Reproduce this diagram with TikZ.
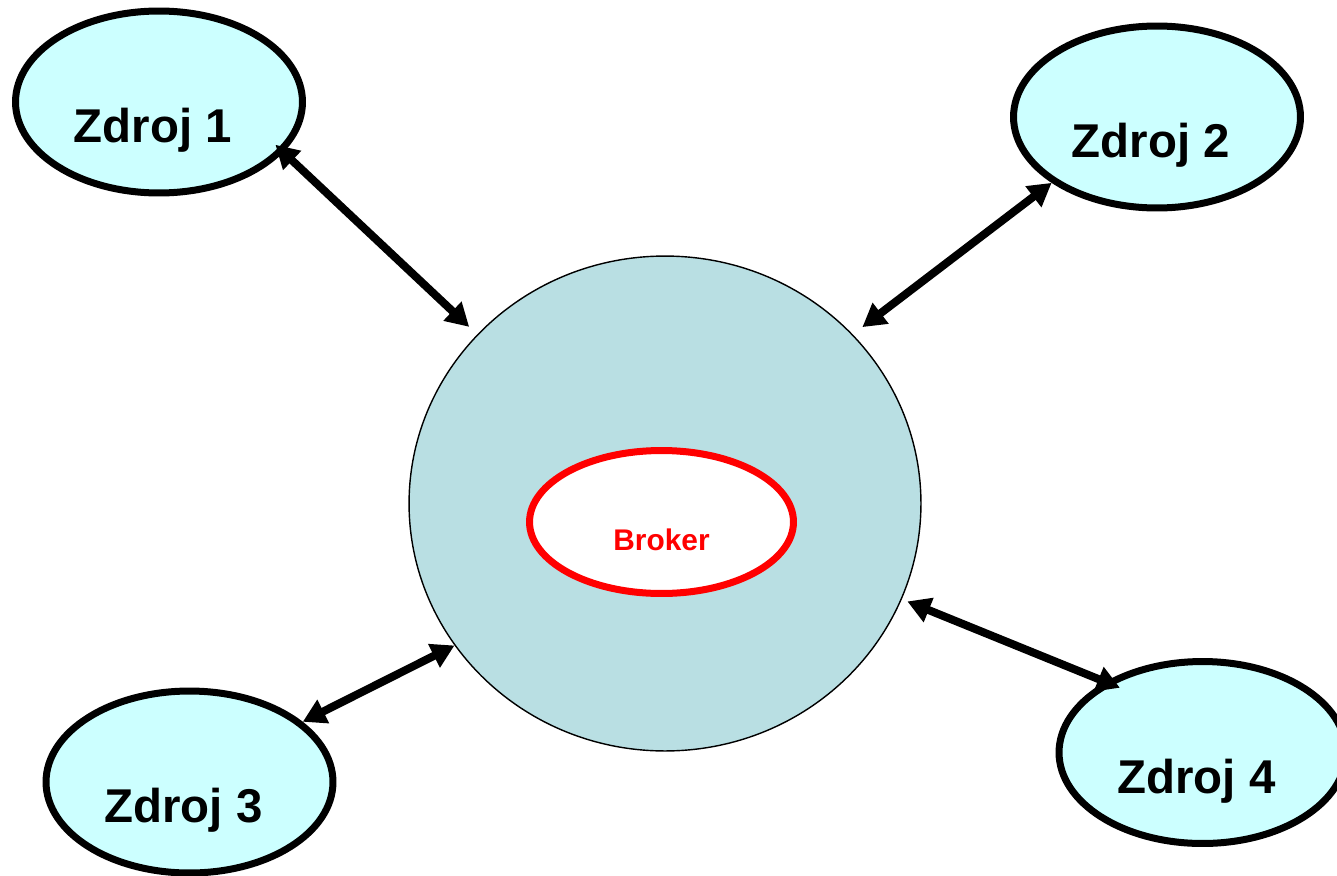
\documentclass[tikz,border=0pt]{standalone}
\usepackage{fontspec}
\setmainfont{Liberation Sans}
\usetikzlibrary{shapes.geometric,arrows.meta}

\definecolor{srcfill}{HTML}{CCFFFF}
\definecolor{hubfill}{HTML}{B9DFE3}

\begin{document}
\begin{tikzpicture}[x=0.02cm, y=-0.02cm,
    zdroj/.style={ellipse, draw, line width=0.14cm, fill=srcfill, inner sep=0pt,
        minimum width=5.74cm, minimum height=3.64cm,
        font=\fontsize{27}{32}\selectfont\bfseries, text height=1.92cm, text depth=0.3cm,
        execute at end node=\hspace*{0.24cm}},
    hub/.style={ellipse, draw, line width=0.8pt, fill=hubfill,
        minimum width=10.24cm, minimum height=9.9cm},
    broker/.style={ellipse, draw=red, line width=0.14cm, fill=white, text=red, inner sep=0pt,
        minimum width=5.28cm, minimum height=2.86cm,
        font=\fontsize{17}{20}\selectfont\bfseries, text height=1.2cm, text depth=0.08cm},
    link/.style={{Triangle[length=0.46cm,width=0.5cm]}-{Triangle[length=0.46cm,width=0.5cm]}, line width=0.16cm}]
    \useasboundingbox (0,0) rectangle (1337,875);

    % central system with the broker inside
    \node[hub] (hub) at (665,503.5) {};
    \node[broker] (broker) at (661.5,522) {Broker};

    % data sources
    \node[zdroj] (z1) at (159,102) {Zdroj 1};
    \node[zdroj] (z2) at (1157,117) {Zdroj 2};
    \node[zdroj] (z3) at (189.5,782) {Zdroj 3};
    \node[zdroj] (z4) at (1202.5,752.5) {Zdroj 4};

    % two-way links
    \draw[link, shorten <=-0.22cm, shorten >=0.22cm] (z1.-22) -- (hub.138);
    \draw[link, shorten >=0.24cm] (z2.-148) -- (hub.42);
    \draw[link] (z3.28) -- (hub.-146);
    \draw[link, shorten <=-0.32cm, shorten >=0.12cm] (z4.144) -- (hub.-22);
\end{tikzpicture}
\end{document}
